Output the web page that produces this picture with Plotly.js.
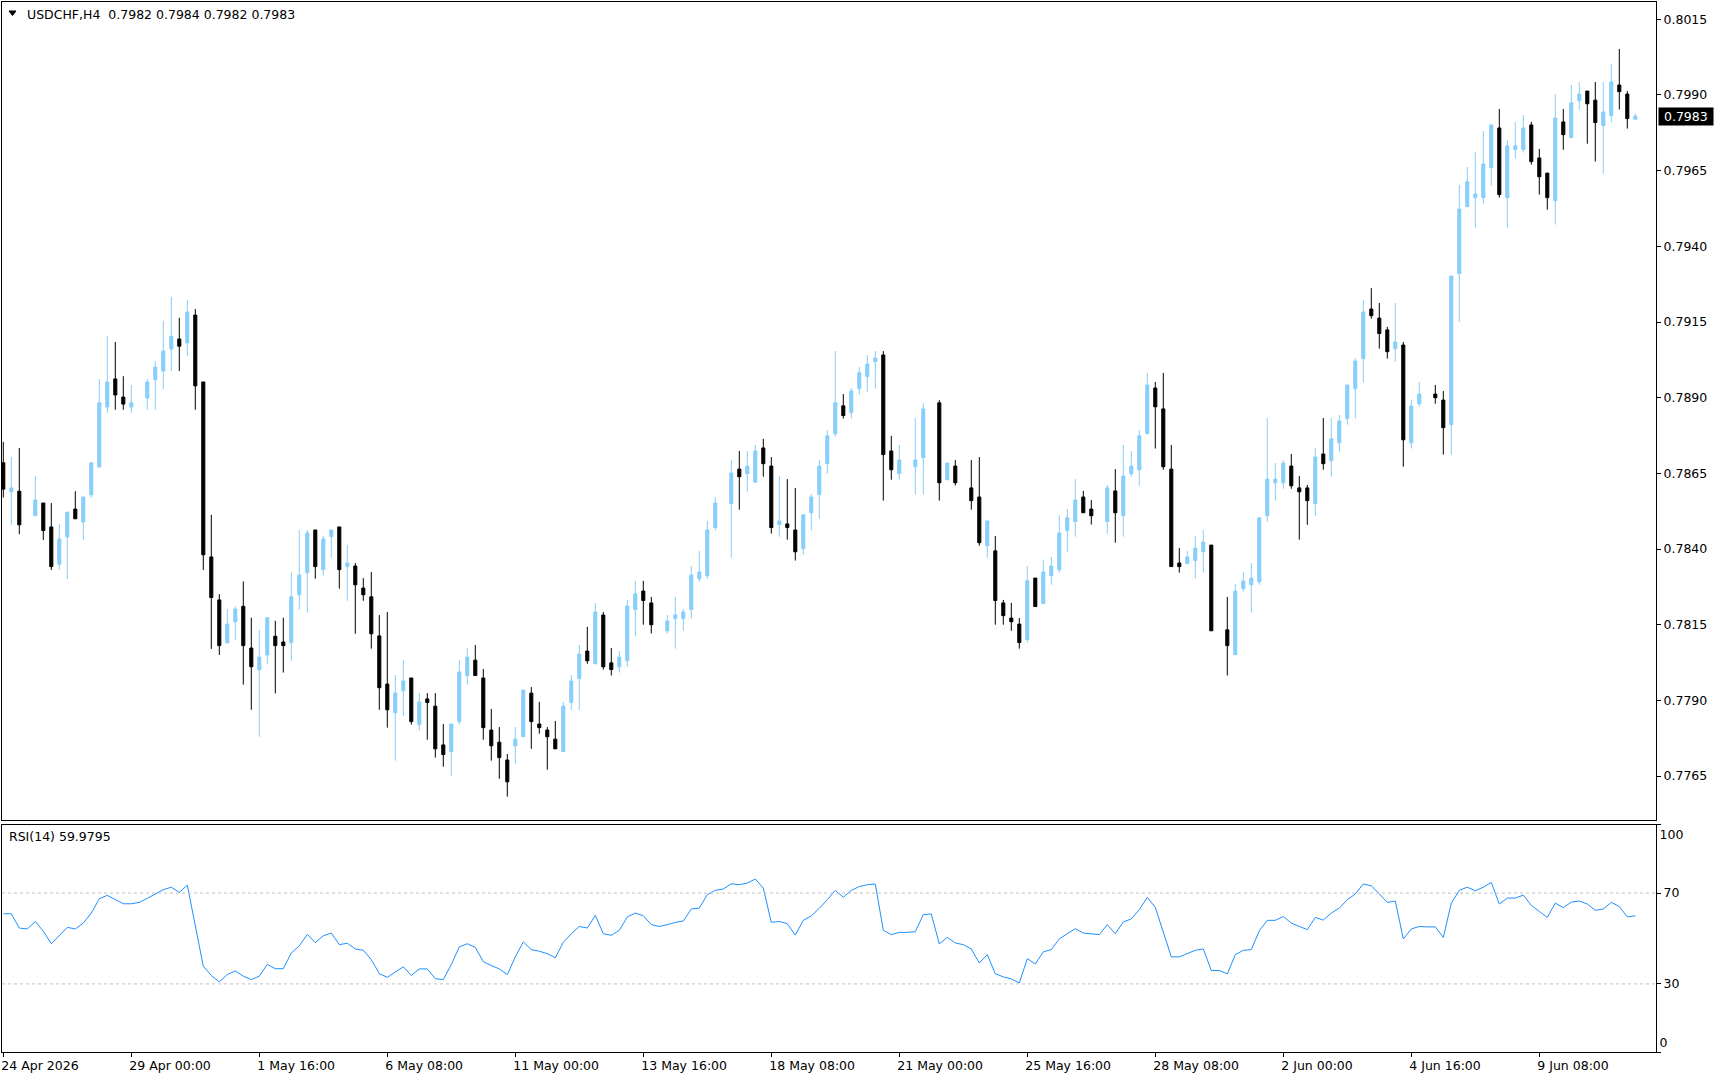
<!DOCTYPE html>
<html>
<head>
<meta charset="utf-8">
<script src="https://cdn.plot.ly/plotly-3.0.1.min.js"></script>
<style>html,body{margin:0;padding:0;background:#fff;}#chart{width:1720px;height:1080px;}</style>
</head>
<body>
<div id="chart"></div>
<script>
// ---- data (USDCHF H4) ----
const openP = [0.78685,0.78589,0.78591,null,0.78510,0.78552,0.78473,0.78350,0.78440,0.78532,
0.78489,0.78579,0.78671,0.78869,0.78962,0.78902,0.78869,null,0.78899,0.78959,
0.78988,0.79061,0.79094,0.79081,0.79173,0.78952,0.78374,0.78232,0.78090,0.78160,
0.78211,0.78073,0.78001,0.78050,0.78112,0.78093,0.78091,0.78249,0.78322,0.78463,
0.78332,0.78441,0.78473,0.78342,0.78344,0.78271,0.78242,0.78113,0.77954,0.77859,
0.77932,0.77974,0.77820,0.77905,0.77881,0.77753,0.77731,0.77830,0.77982,0.78033,
0.77974,0.77802,0.77762,0.77703,0.77750,0.77780,0.77924,0.77822,0.77802,0.77772,
0.77731,0.77893,0.77972,0.78063,0.78021,0.78182,0.78024,0.78011,0.78031,0.78200,
0.78261,0.78222,null,0.78130,0.78170,0.78170,0.78200,0.78302,0.78312,0.78471,
null,0.78550,0.78664,0.78649,0.78621,0.78734,0.78674,0.78481,0.78483,0.78463,
0.78401,0.78520,0.78580,0.78682,0.78781,0.78873,0.78851,0.78930,0.78970,0.79019,
0.79041,0.78724,0.78649,null,0.78672,0.78702,null,0.78883,0.78629,0.78674,
null,0.78602,0.78572,0.78411,0.78394,0.78222,0.78172,0.78152,0.78101,0.78304,
0.78220,0.78312,0.78332,0.78461,0.78491,0.78572,0.78532,null,0.78491,0.78592,
0.78510,0.78649,0.78662,0.78781,0.78932,0.78863,0.78664,0.78354,0.78352,0.78362,
0.78391,0.78413,null,0.78133,0.78051,0.78269,0.78282,0.78292,0.78510,0.78619,
0.78619,0.78674,0.78602,0.78602,0.78550,0.78714,0.78692,0.78751,0.78831,0.78930,
0.79029,0.79193,0.79163,0.79124,0.79062,0.79074,0.78751,0.78880,null,0.78912,
0.78892,0.78811,0.79310,0.79531,0.79561,0.79561,0.79660,0.79791,0.79561,0.79720,
0.79720,0.79801,0.79692,0.79642,0.79551,0.79811,0.79759,0.79881,0.79913,0.79883,
0.79799,0.79832,0.79933,0.79903,0.79820];
const highP = [0.78754,0.78704,0.78734,null,0.78641,0.78552,0.78552,0.78482,0.78522,0.78591,
0.78572,0.78685,0.78962,0.79103,0.79084,0.78971,0.78942,null,0.78962,0.79021,
0.79154,0.79233,0.79164,0.79223,0.79193,0.78952,0.78513,0.78251,0.78202,0.78211,
0.78293,0.78173,0.78133,0.78173,0.78163,0.78173,0.78323,0.78463,0.78463,0.78463,
0.78443,0.78463,0.78473,0.78413,0.78354,0.78304,0.78324,0.78182,0.78192,0.77984,
0.78033,0.77974,0.77924,0.77924,0.77924,0.77822,0.77822,0.78033,0.78073,0.78083,
0.78004,0.77872,0.77812,0.77723,0.77812,0.77934,0.77944,0.77895,0.77812,0.77832,
0.77895,0.77984,0.78083,0.78143,0.78222,0.78192,0.78073,0.78063,0.78232,0.78295,
0.78295,0.78242,null,0.78182,0.78242,0.78202,0.78344,0.78394,0.78493,0.78572,
null,0.78694,0.78724,0.78724,0.78744,0.78764,0.78704,0.78641,0.78631,0.78602,
0.78513,0.78582,0.78694,0.78793,0.79054,0.78912,0.78932,0.79001,0.79041,0.79054,
0.79054,0.78774,0.78744,null,0.78833,0.78883,null,0.78892,0.78684,0.78694,
null,0.78694,0.78704,0.78493,0.78443,0.78232,0.78222,0.78172,0.78344,0.78304,
0.78364,0.78374,0.78513,0.78532,0.78631,0.78592,0.78562,null,0.78612,0.78664,
0.78744,0.78724,0.78793,0.78982,0.78952,0.78982,0.78744,0.78403,0.78394,0.78443,
0.78463,0.78413,null,0.78242,0.78285,0.78324,0.78354,0.78503,0.78833,0.78684,
0.78694,0.78714,0.78641,0.78612,0.78734,0.78833,0.78833,0.78843,0.78942,0.79031,
0.79223,0.79262,0.79213,0.79134,0.79213,0.79084,0.78892,0.78952,null,0.78942,
0.78922,0.79302,0.79603,0.79662,0.79712,0.79781,0.79801,0.79854,0.79751,0.79811,
0.79834,0.79811,0.79722,0.79642,0.79903,0.79854,0.79933,0.79943,0.79913,0.79943,
0.79943,0.80002,0.80052,0.79913,0.79840];
const lowP = [0.78570,0.78480,0.78449,null,0.78510,0.78430,0.78331,0.78331,0.78301,0.78500,
0.78430,0.78570,0.78671,0.78850,0.78860,0.78860,0.78850,null,0.78860,0.78860,
0.78928,0.78988,0.78988,0.79037,0.78860,0.78331,0.78070,0.78050,0.78090,0.78100,
0.77952,0.77869,0.77780,0.78020,0.77923,0.77992,0.78031,0.78200,0.78190,0.78302,
0.78312,0.78371,0.78269,0.78229,0.78120,0.78229,0.78071,0.77869,0.77810,0.77701,
0.77849,0.77820,0.77800,0.77770,0.77711,0.77681,0.77651,0.77820,0.77952,0.77982,
0.77770,0.77701,0.77641,0.77582,0.77691,0.77780,0.77740,0.77790,0.77671,0.77740,
0.77731,0.77868,0.77868,0.78021,0.78021,0.78002,0.77982,0.77992,0.78011,0.78111,
0.78150,0.78121,null,0.78121,0.78071,0.78130,0.78170,0.78292,0.78302,0.78461,
null,0.78372,0.78530,0.78590,0.78621,0.78639,0.78451,0.78441,0.78431,0.78362,
0.78381,0.78461,0.78500,0.78649,0.78771,0.78831,0.78831,0.78910,0.78920,0.78930,
0.78560,0.78629,0.78629,null,0.78580,0.78580,null,0.78560,0.78629,0.78610,
null,0.78530,0.78411,0.78372,0.78150,0.78150,0.78130,0.78071,0.78091,0.78210,
0.78220,0.78282,0.78322,0.78391,0.78441,0.78520,0.78481,null,0.78451,0.78421,
0.78441,0.78639,0.78609,0.78781,0.78732,0.78662,0.78342,0.78322,0.78352,0.78302,
0.78322,0.78130,null,0.77982,0.78051,0.78259,0.78190,0.78282,0.78490,0.78560,
0.78599,0.78599,0.78431,0.78480,0.78510,0.78662,0.78639,0.78722,0.78811,0.78831,
0.78950,0.79161,0.79062,0.79029,0.79019,0.78672,0.78732,0.78870,null,0.78880,
0.78712,0.78712,0.79150,0.79531,0.79462,0.79541,0.79600,0.79561,0.79462,0.79690,
0.79710,0.79670,0.79571,0.79521,0.79472,0.79719,0.79759,0.79852,0.79739,0.79680,
0.79640,0.79809,0.79852,0.79789,0.79820];
const closeP = [0.78598,0.78602,0.78480,null,0.78562,0.78461,0.78342,0.78433,0.78522,0.78500,
0.78572,0.78685,0.78883,0.78952,0.78909,0.78879,0.78883,null,0.78952,0.79001,
0.79054,0.79103,0.79070,0.79183,0.78939,0.78381,0.78240,0.78081,0.78152,0.78202,
0.78081,0.78011,0.78043,0.78173,0.78081,0.78081,0.78242,0.78314,0.78453,0.78342,
0.78433,0.78463,0.78332,0.78354,0.78282,0.78249,0.78120,0.77942,0.77869,0.77924,
0.77964,0.77830,0.77895,0.77893,0.77740,0.77721,0.77822,0.77994,0.78043,0.77982,
0.77810,0.77750,0.77711,0.77631,0.77772,0.77934,0.77830,0.77810,0.77780,0.77740,
0.77881,0.77964,0.78053,0.78031,0.78192,0.78011,0.78002,0.78043,0.78212,0.78252,
0.78230,0.78150,null,0.78162,0.78182,0.78192,0.78314,0.78324,0.78463,0.78552,
null,0.78651,0.78639,0.78674,0.78724,0.78682,0.78471,0.78493,0.78471,0.78391,
0.78513,0.78572,0.78674,0.78774,0.78883,0.78841,0.78922,0.78982,0.79011,0.79031,
0.78712,0.78662,0.78694,null,0.78694,0.78863,null,0.78619,0.78684,0.78619,
null,0.78560,0.78421,0.78493,0.78230,0.78180,0.78160,0.78091,0.78295,0.78210,
0.78324,0.78344,0.78453,0.78503,0.78562,0.78520,0.78510,null,0.78602,0.78520,
0.78641,0.78674,0.78774,0.78942,0.78870,0.78672,0.78342,0.78342,0.78374,0.78403,
0.78423,0.78130,null,0.78081,0.78261,0.78294,0.78304,0.78503,0.78631,0.78631,
0.78684,0.78609,0.78589,0.78560,0.78704,0.78682,0.78764,0.78823,0.78942,0.79021,
0.79183,0.79171,0.79112,0.79052,0.79084,0.78761,0.78872,0.78912,null,0.78900,
0.78801,0.79302,0.79523,0.79613,0.79573,0.79672,0.79801,0.79571,0.79732,0.79732,
0.79791,0.79680,0.79630,0.79561,0.79824,0.79769,0.79874,0.79903,0.79871,0.79809,
0.79844,0.79943,0.79911,0.79822,0.79830];
const rsi14 = [60.9,60.9,54.6,54.2,57.5,53.2,47.7,51.4,54.9,54.2,
56.8,61.2,67.5,69.0,67.1,65.3,65.3,65.9,67.7,69.6,
71.5,72.6,70.3,73.5,55.6,37.8,33.7,30.9,34.1,35.7,
33.4,31.9,33.4,38.6,36.7,36.7,43.6,46.8,51.8,48.2,
51.2,52.4,47.3,47.9,45.4,44.8,40.7,34.5,32.9,35.4,
37.5,33.7,36.6,36.6,32.3,31.9,38.5,46.3,47.7,46.1,
39.8,38.1,36.6,34.1,41.9,48.5,45.1,44.4,43.3,41.5,
48.3,52.1,55.3,54.6,60.2,52.1,51.4,53.6,59.5,61.2,
60.0,56.1,55.3,56.1,57.1,57.7,63.0,63.4,69.3,71.2,
71.8,74.1,73.7,74.4,76.2,72.2,57.1,57.5,56.5,51.5,
58.0,60.0,63.3,67.1,71.2,68.2,71.2,72.9,73.7,74.0,
53.6,51.7,52.7,52.7,53.0,60.5,60.8,47.6,50.5,48.0,
47.3,45.4,39.2,42.9,34.5,33.1,32.2,30.4,41.1,38.8,
44.1,45.1,49.8,52.1,54.3,52.4,52.1,51.7,56.1,52.1,
57.3,58.6,62.7,68.1,63.7,53.2,41.9,41.9,43.2,44.8,
45.4,35.9,35.9,34.4,42.9,44.8,45.1,53.4,58.0,58.0,
59.7,56.8,55.3,53.9,59.3,58.1,61.2,63.4,67.1,69.6,
74.0,73.2,69.7,65.9,66.5,49.8,54.2,55.3,55.1,55.1,
50.5,65.6,71.2,72.6,71.0,72.6,74.7,65.2,67.8,67.8,
69.1,64.6,61.9,59.3,65.6,63.6,66.0,66.5,65.2,62.4,
63.0,65.9,64.1,59.5,59.9795];
const timeTickIdx = [0,16,32,48,64,80,96,112,128,144,160,176,192];
const timeTickLabels = ['24 Apr 2026','29 Apr 00:00','1 May 16:00','6 May 08:00','11 May 00:00','13 May 16:00','18 May 08:00','21 May 00:00','25 May 16:00','28 May 08:00','2 Jun 00:00','4 Jun 16:00','9 Jun 08:00'];
const priceTicks = [0.7765,0.7790,0.7815,0.7840,0.7865,0.7890,0.7915,0.7940,0.7965,0.7990,0.8015];
const rsiLevelHigh = 70;
const rsiLevelLow = 30;
const rsiTop = 100;
const rsiBottom = 0;
const symbolTitle = 'USDCHF,H4\u00a0 0.7982 0.7984 0.7982 0.7983';
const rsiTitle = 'RSI(14) 59.9795';
const lastPrice = 0.7983;

// ---- build traces ----
const bars = openP.map((o,i)=>i);
const keep = bars.filter(i=>openP[i]!==null);
const FONT = 'DejaVu Sans';
const X0 = -0.1625, X1 = 206.5875;

const candle = {
  type:'candlestick', xaxis:'x', yaxis:'y',
  x: keep, open: keep.map(i=>openP[i]), high: keep.map(i=>highP[i]),
  low: keep.map(i=>lowP[i]), close: keep.map(i=>closeP[i]),
  increasing:{line:{color:'#87CEFA',width:1},fillcolor:'#87CEFA'},
  decreasing:{line:{color:'#000000',width:1},fillcolor:'#000000'},
  whiskerwidth:0, hoverinfo:'skip', showlegend:false
};
const levelStyle = {color:'#c0c0c0', width:1, dash:'dot'};
const levelHigh = {type:'scatter', mode:'lines', xaxis:'x2', yaxis:'y3',
  x:[X0,X1], y:[rsiLevelHigh,rsiLevelHigh], line:levelStyle, hoverinfo:'skip', showlegend:false};
const levelLow = {type:'scatter', mode:'lines', xaxis:'x2', yaxis:'y4',
  x:[X0,X1], y:[rsiLevelLow,rsiLevelLow], line:levelStyle, hoverinfo:'skip', showlegend:false};
const rsiTrace = {
  type:'scatter', mode:'lines', xaxis:'x2', yaxis:'y2',
  x: bars, y: rsi14, line:{color:'#1E90FF',width:1}, hoverinfo:'skip', showlegend:false
};

const axFont = {family:FONT, size:12.5, color:'#000'};
const layout = {
  width:1720, height:1080,
  margin:{l:2,r:64,t:2,b:28,pad:0},
  paper_bgcolor:'#ffffff', plot_bgcolor:'#ffffff',
  showlegend:false, boxgap:0.45,
  font:axFont,
  xaxis:{domain:[0,1], anchor:'y', range:[X0,X1], showgrid:false, zeroline:false,
    showline:true, mirror:true, linecolor:'#000', linewidth:1, showticklabels:false, ticks:'',
    rangeslider:{visible:false}, fixedrange:true},
  yaxis:{domain:[0.2205,1], anchor:'x', side:'right', range:[0.775033,0.802072],
    tickvals:priceTicks, tickformat:'.4f', ticks:'outside', ticklen:4, tickcolor:'#000',
    showline:true, mirror:true, linecolor:'#000', linewidth:1, showgrid:false, zeroline:false,
    tickfont:axFont, fixedrange:true},
  xaxis2:{domain:[0,1], anchor:'y2', range:[X0,X1], showgrid:false, zeroline:false,
    showline:true, mirror:true, linecolor:'#000', linewidth:1,
    tickmode:'array', tickvals:timeTickIdx, ticktext:timeTickLabels,
    ticks:'outside', ticklen:4, tickcolor:'#000', ticklabelposition:'outside right',
    ticklabelshift:-3, ticklabelstandoff:2,
    tickfont:axFont, fixedrange:true},
  yaxis2:{domain:[0,0.2162], anchor:'x2', side:'right', range:[rsiBottom,rsiTop],
    tickvals:[rsiLevelLow,rsiLevelHigh], ticks:'outside', ticklen:4, tickcolor:'#000',
    showline:true, mirror:true, linecolor:'#000', linewidth:1, showgrid:false, zeroline:false,
    tickfont:axFont, fixedrange:true},
  yaxis3:{overlaying:'y2', anchor:'x2', side:'right', range:[rsiBottom,rsiTop], tickvals:[rsiTop],
    ticks:'outside', ticklen:4, tickcolor:'#000', ticklabelposition:'outside bottom',
    showline:false, showgrid:false, zeroline:false, tickfont:axFont, fixedrange:true},
  yaxis4:{overlaying:'y2', anchor:'x2', side:'right', range:[rsiBottom,rsiTop], tickvals:[rsiBottom],
    ticks:'outside', ticklen:4, tickcolor:'#000', ticklabelposition:'outside top',
    showline:false, showgrid:false, zeroline:false, tickfont:axFont, fixedrange:true},
  shapes:[
    {type:'path', xref:'paper', yref:'paper', path:'M 0.004232 0.99143 L 0.008464 0.99143 L 0.006348 0.98714 Z',
     fillcolor:'#000', line:{color:'#000', width:1}}
  ],
  annotations:[
    {xref:'paper', yref:'paper', x:0.013906, y:0.98857, xanchor:'left', yanchor:'middle', showarrow:false,
     text:symbolTitle, font:axFont},
    {xref:'paper', yref:'paper', x:0.003023, y:0.20571, xanchor:'left', yanchor:'middle', showarrow:false,
     text:rsiTitle, font:axFont},
    {xref:'paper', yref:'y', x:1, y:lastPrice, xanchor:'left', yanchor:'middle', xshift:2, showarrow:false,
     text:'\u00a0'+lastPrice.toFixed(4)+'\u00a0', bgcolor:'#000', borderpad:1,
     font:{family:FONT, size:12.5, color:'#fff'}}
  ]
};
Plotly.newPlot('chart',[levelHigh,levelLow,candle,rsiTrace],layout,{staticPlot:true, displayModeBar:false});
</script>
</body>
</html>
